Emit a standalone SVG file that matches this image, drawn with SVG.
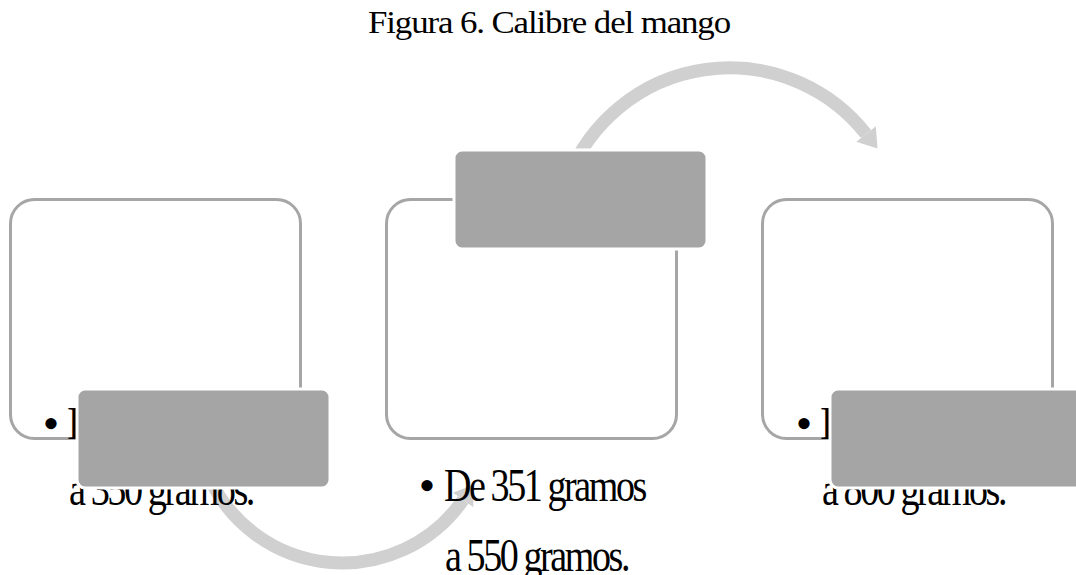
<svg xmlns="http://www.w3.org/2000/svg" width="1076" height="575" viewBox="0 0 1076 575">
<style>
.box{fill:#FFFFFF;stroke:#A6A6A6;stroke-width:3}
.tag{fill:#A5A5A5;stroke:#FFFFFF;stroke-width:3}
.t{font-family:"Liberation Serif","Times New Roman",serif;font-size:47px;fill:#000000}
.c{letter-spacing:-3px}
.title{font-family:"Liberation Serif","Times New Roman",serif;font-size:31px;fill:#000000;letter-spacing:-1px}
.arc{fill:none;stroke:#D0D0D0;stroke-width:13}
</style>
<defs>
<marker id="ah" markerUnits="userSpaceOnUse" viewBox="0 -13 20 26" markerWidth="20" markerHeight="26" refX="0" refY="0" orient="auto">
<path d="M0,-12.5 L18.6,0 L0,12.5 Z" fill="#D0D0D0"/>
</marker>
</defs>
<rect width="1076" height="575" fill="#FFFFFF"/>
<text class="title" x="368" y="33" textLength="362" lengthAdjust="spacingAndGlyphs">Figura 6. Calibre del mango</text>
<g id="connectors">
<path class="arc" d="M569.2,175 A173.7,173.7 0 0 1 866,134" marker-end="url(#ah)"/>
<path class="arc" d="M208.1,475 A146.7,146.7 0 0 0 463,500" marker-end="url(#ah)"/>
</g>
<g id="node1">
<rect class="box" x="10.5" y="199.5" width="290" height="239" rx="24"/>
<text class="t" x="51" y="439" text-anchor="middle">•</text>
<text class="t" x="67" y="439">De</text>
<text class="t c" x="69" y="505" textLength="184" lengthAdjust="spacingAndGlyphs">a 350 gramos.</text>
<rect class="tag" x="77" y="389" width="253" height="99" rx="8"/>
</g>
<g id="node2">
<rect class="box" x="386.5" y="199.5" width="290" height="239" rx="24"/>
<rect class="tag" x="454" y="150" width="253" height="99" rx="8"/>
<text class="t" x="427" y="501" text-anchor="middle">•</text>
<text class="t c" x="444" y="501" textLength="201" lengthAdjust="spacingAndGlyphs">De 351 gramos</text>
<text class="t c" x="445" y="571" textLength="183" lengthAdjust="spacingAndGlyphs">a 550 gramos.</text>
</g>
<g id="node3">
<rect class="box" x="762.5" y="199.5" width="290" height="239" rx="24"/>
<text class="t" x="804" y="439" text-anchor="middle">•</text>
<text class="t" x="820" y="439">De</text>
<text class="t c" x="822" y="505" textLength="183" lengthAdjust="spacingAndGlyphs">a 800 gramos.</text>
<rect class="tag" x="830" y="389" width="253" height="99" rx="8"/>
</g>
</svg>
